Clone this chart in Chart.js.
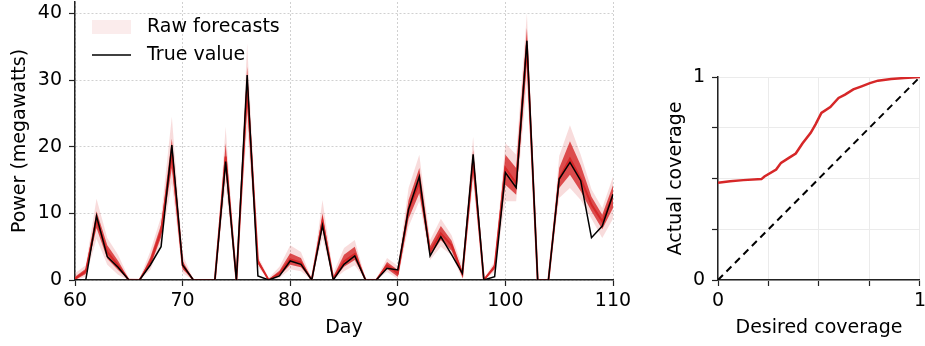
<!DOCTYPE html>
<html>
<head>
<meta charset="utf-8">
<script src="https://cdn.jsdelivr.net/npm/chart.js@4/dist/chart.umd.min.js"></script>
<style>
  html, body { margin: 0; padding: 0; background: #fff; overflow: hidden; }
  #wrap { position: relative; width: 925px; height: 346px; overflow: hidden; }
  #left { position: absolute; left: 0; top: 0; }
  #right { position: absolute; left: 640px; top: 0; }
</style>
</head>
<body>
<div id="wrap">
  <canvas id="left" width="640" height="346"></canvas>
  <canvas id="right" width="290" height="346"></canvas>
</div>
<script>
// days 60..110
const days = [60, 61, 62, 63, 64, 65, 66, 67, 68, 69, 70, 71, 72, 73, 74, 75, 76, 77, 78, 79,
  80, 81, 82, 83, 84, 85, 86, 87, 88, 89, 90, 91, 92, 93, 94, 95, 96, 97, 98, 99,
  100, 101, 102, 103, 104, 105, 106, 107, 108, 109, 110];

const trueValue = [0, 0, 9.6, 3.5, 1.9, 0, 0, 2.25, 5, 20.25, 2.25, 0, 0, 0, 17.75, 0, 30.75, 0.6, 0, 0.6,
  2.85, 2.35, 0, 8.2, 0, 2.35, 3.6, 0, 0, 1.75, 1.5, 10.6, 15.5, 3.6, 6.5, 3.8, 1.0, 18.85, 0, 0.5,
  16.1, 13.85, 35.9, 0, 0, 15.15, 17.65, 14.9, 6.35, 8.1, 12.85];

const fcMedian = [0.2, 1.3, 9.0, 4.2, 2.2, 0, 0, 2.7, 7.3, 19, 2.2, 0, 0, 0, 18.5, 0, 29, 2.8, 0, 1.0,
  3.1, 2.6, 0, 8.8, 0.2, 2.8, 3.9, 0, 0, 2.2, 1.0, 10.6, 14.6, 4.3, 7.0, 5.2, 0.9, 17.8, 0, 2.0,
  16.8, 14.5, 35.2, 0, 0, 15.2, 18.2, 15.2, 11.3, 8.8, 12.6];

const fcInnerLo = [0, 0.9, 7.8, 3.2, 1.5, 0, 0, 2.1, 6.4, 16.8, 1.6, 0, 0, 0, 16.3, 0, 26, 2.4, 0, 0.6,
  2.3, 1.9, 0, 7.6, 0, 2.0, 3.0, 0, 0, 1.7, 0.5, 9.2, 13, 3.6, 6.0, 4.4, 0.5, 16.2, 0, 1.6,
  14.3, 12.8, 32.5, 0, 0, 13.8, 15.8, 13.3, 10.3, 7.6, 10.8];
const fcInnerHi = [0.5, 1.7, 10.3, 5.2, 2.9, 0.1, 0, 3.4, 8.3, 21.2, 2.9, 0, 0, 0, 20.5, 0, 32, 3.2, 0.1, 1.4,
  4.0, 3.3, 0, 10, 0.5, 3.8, 5.0, 0, 0, 2.7, 1.5, 12, 16.8, 5.1, 8.1, 5.9, 1.4, 19.5, 0, 2.4,
  18.8, 16.8, 37.8, 0, 0, 16.8, 20.8, 17.2, 12.5, 9.8, 14.2];
const fcOuterLo = [0, 0.5, 6.2, 2.3, 0.8, 0, 0, 1.5, 5.5, 14.5, 1.0, 0, 0, 0, 14.2, 0, 23, 2.0, 0, 0.3,
  1.6, 1.3, 0, 6.3, 0, 1.3, 2.2, 0, 0, 1.2, 0.2, 8.0, 11.8, 3.0, 5.0, 3.7, 0.2, 14.5, 0, 1.2,
  11.8, 11.8, 29.5, 0, 0, 12.3, 13.8, 12.0, 9.2, 6.3, 9.2];
const fcOuterHi = [1.0, 2.2, 12.2, 6.3, 3.8, 0.3, 0.2, 4.3, 9.5, 24.5, 3.8, 0.1, 0, 0, 23, 0.1, 35.5, 3.6, 0.3, 2.0,
  5.2, 4.2, 0.2, 12, 1.0, 4.8, 6.0, 0.2, 0.2, 3.3, 2.1, 13.8, 18.8, 6.0, 9.2, 6.7, 2.0, 21.5, 0.2, 2.8,
  20.5, 18.8, 40, 0.1, 0.1, 18.6, 23.2, 18.8, 13.6, 10.8, 15.5];

const yTicksLeft = [0, 10, 20, 30, 40];

const desiredCov = [0, 0.06, 0.125, 0.215, 0.23, 0.288, 0.312, 0.353, 0.385, 0.418, 0.459, 0.483,
  0.512, 0.556, 0.597, 0.629, 0.67, 0.711, 0.752, 0.792, 0.857, 0.922, 1];
const actualCov = [0.479, 0.487, 0.492, 0.497, 0.51, 0.544, 0.577, 0.603, 0.623, 0.672, 0.725, 0.767,
  0.823, 0.852, 0.897, 0.913, 0.939, 0.954, 0.970, 0.982, 0.990, 0.995, 1];
const idealX = [0, 1];
const idealY = [0, 1];

const RED = "#d62728";
const FONT = "'DejaVu Sans', sans-serif";
const fontSize = 19;

const xy = (xs, ys) => xs.map((x, i) => ({ x: x, y: ys[i] }));

function band(label, values, fill, color, order) {
  return {
    label: label,
    data: xy(days, values),
    borderWidth: 0,
    pointRadius: 0,
    fill: fill,
    backgroundColor: color,
    order: order,
  };
}

// legend drawn inside the chart area, top-left
const cornerLegend = {
  id: "cornerLegend",
  afterDraw(chart) {
    const { ctx, chartArea } = chart;
    const x = chartArea.left + 17;
    const y1 = 27, y2 = 55;
    ctx.save();
    ctx.fillStyle = "rgba(214, 39, 40, 0.09)";
    ctx.fillRect(x, y1 - 7, 39, 14);
    ctx.strokeStyle = "#000";
    ctx.lineWidth = 1.5;
    ctx.beginPath();
    ctx.moveTo(x, y2);
    ctx.lineTo(x + 39, y2);
    ctx.stroke();
    ctx.fillStyle = "#000";
    ctx.font = fontSize + "px " + FONT;
    ctx.textBaseline = "middle";
    ctx.fillText("Raw forecasts", x + 55, y1);
    ctx.fillText("True value", x + 55, y2);
    ctx.restore();
  },
};

new Chart(document.getElementById("left"), {
  type: "line",
  data: {
    datasets: [
      band("outer hi", fcOuterHi, "+1", "rgba(214, 39, 40, 0.16)", 5),
      band("outer lo", fcOuterLo, false, "rgba(214, 39, 40, 0.16)", 5),
      band("inner hi", fcInnerHi, "+1", "rgba(214, 39, 40, 0.8)", 4),
      band("inner lo", fcInnerLo, false, "rgba(214, 39, 40, 0.8)", 4),
      {
        label: "Median forecast",
        data: xy(days, fcMedian),
        borderColor: RED,
        borderWidth: 2,
        pointRadius: 0,
        fill: false,
        order: 2,
      },
      {
        label: "True value",
        data: xy(days, trueValue),
        borderColor: "#000",
        borderWidth: 1.5,
        pointRadius: 0,
        fill: false,
        order: 1,
      },
    ],
  },
  options: {
    responsive: false,
    animation: false,
    devicePixelRatio: 1,
    layout: { padding: { top: 2, right: 27, left: 0, bottom: 0 } },
    plugins: { legend: { display: false }, tooltip: { enabled: false } },
    scales: {
      x: {
        type: "linear",
        min: 60,
        max: 110,
        afterFit: (s) => { s.height = 66; s.paddingRight = 0; },
        ticks: { stepSize: 10, color: "#000", padding: 4, font: { family: FONT, size: fontSize } },
        grid: { color: "#d0d0d0", tickColor: "#222", tickLength: 6, tickWidth: 1.2 },
        border: { color: "#222", width: 1.5, dash: [2, 2] },
        title: { display: true, text: "Day", color: "#000", padding: { top: 0, bottom: 7 }, font: { family: FONT, size: fontSize } },
      },
      y: {
        min: 0,
        max: 41.7,
        afterFit: (s) => { s.width = 75; s.paddingTop = 0; s.paddingBottom = 0; },
        afterBuildTicks: (s) => { s.ticks = yTicksLeft.map((v) => ({ value: v })); },
        ticks: { color: "#000", padding: 7, font: { family: FONT, size: fontSize } },
        grid: { color: "#d0d0d0", tickColor: "#222", tickLength: 6, tickWidth: 1.2 },
        border: { color: "#222", width: 1.5, dash: [2, 2] },
        title: { display: true, text: "Power (megawatts)", color: "#000", padding: { top: 9, bottom: 0 }, font: { family: FONT, size: fontSize } },
      },
    },
  },
  plugins: [cornerLegend],
});

const covTicks = [0, 0.25, 0.5, 0.75, 1];
const covLabel = (v) => (v === 0 || v === 1 ? String(v) : "");

new Chart(document.getElementById("right"), {
  type: "scatter",
  data: {
    datasets: [
      {
        label: "Calibration",
        data: xy(desiredCov, actualCov),
        showLine: true,
        borderColor: RED,
        borderWidth: 2.5,
        pointRadius: 0,
        order: 1,
      },
      {
        label: "Ideal",
        data: xy(idealX, idealY),
        showLine: true,
        borderColor: "#000",
        borderWidth: 2,
        borderDash: [7, 5],
        pointRadius: 0,
        order: 2,
      },
    ],
  },
  options: {
    responsive: false,
    animation: false,
    devicePixelRatio: 1,
    layout: { padding: { top: 77, right: 7.3, left: 0, bottom: 0 } },
    plugins: { legend: { display: false }, tooltip: { enabled: false } },
    scales: {
      x: {
        type: "linear",
        min: 0,
        max: 1,
        afterFit: (s) => { s.height = 66; },
        afterBuildTicks: (s) => { s.ticks = covTicks.map((v) => ({ value: v })); },
        ticks: { color: "#000", padding: 4, callback: covLabel, font: { family: FONT, size: fontSize } },
        grid: { color: "#ebebeb", tickColor: "#222", tickLength: 6, tickWidth: 1.2 },
        border: { color: "#222", width: 1.5 },
        title: { display: true, text: "Desired coverage", color: "#000", padding: { top: 0, bottom: 7 }, font: { family: FONT, size: fontSize } },
      },
      y: {
        min: 0,
        max: 1,
        afterFit: (s) => { s.width = 78; },
        afterBuildTicks: (s) => { s.ticks = covTicks.map((v) => ({ value: v })); },
        ticks: { color: "#000", padding: 7, callback: covLabel, font: { family: FONT, size: fontSize } },
        grid: { color: "#ebebeb", tickColor: "#222", tickLength: 6, tickWidth: 1.2 },
        border: { color: "#222", width: 1.5 },
        title: { display: true, text: "Actual coverage", color: "#000", padding: { top: 25, bottom: 0 }, font: { family: FONT, size: fontSize } },
      },
    },
  },
});
</script>
</body>
</html>
